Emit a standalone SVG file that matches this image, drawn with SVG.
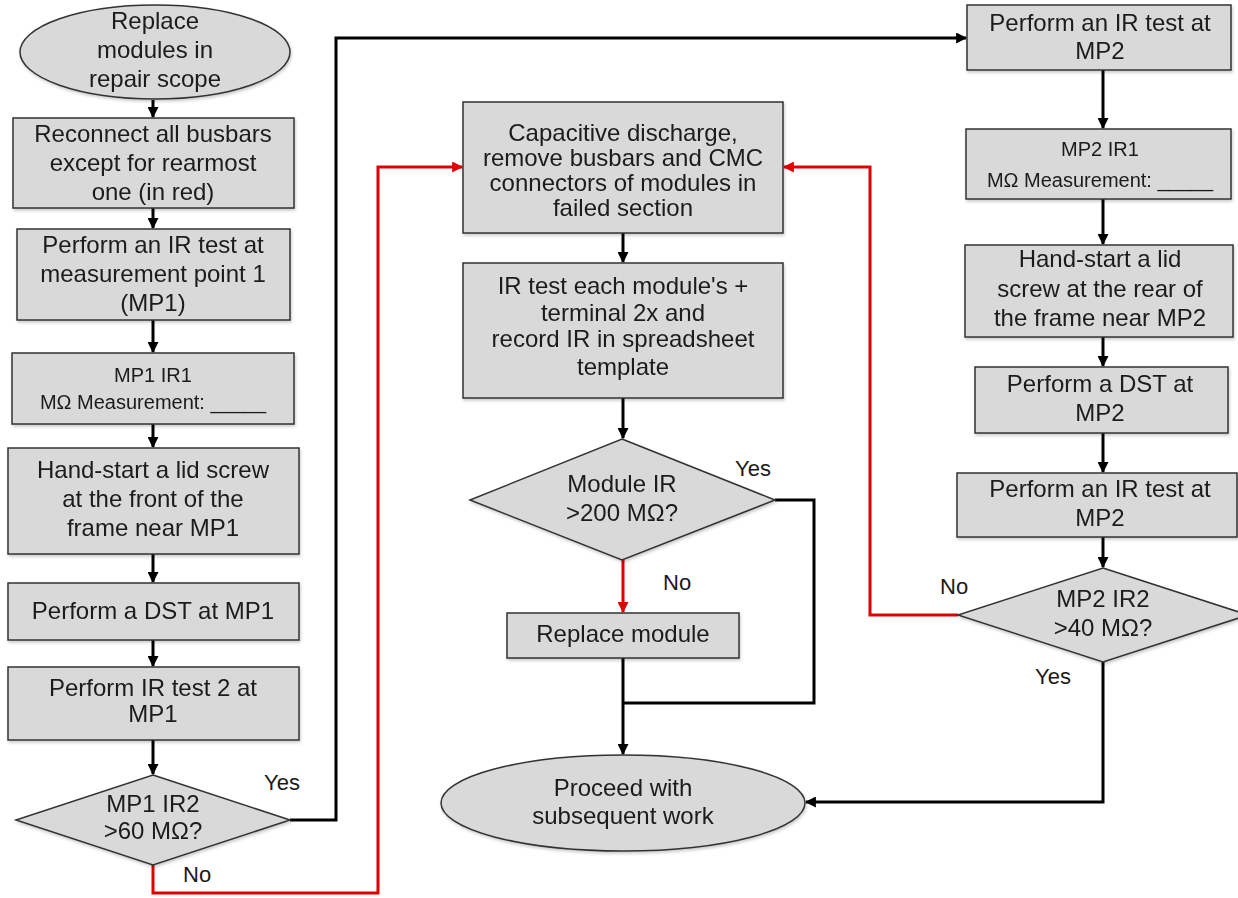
<svg xmlns="http://www.w3.org/2000/svg" width="1238" height="898" viewBox="0 0 1238 898">
<defs>
<style>
.n{fill:#d9d9d9;stroke:#333;stroke-width:1.5}
.t{font-family:"Liberation Sans",Arial,sans-serif;font-size:24px;fill:#1a1a1a;text-anchor:middle}
.s{font-size:20px}
.lbl{font-family:"Liberation Sans",Arial,sans-serif;font-size:22px;fill:#1a1a1a}
.k{fill:none;stroke:#000;stroke-width:3}
.r{fill:none;stroke:#e00000;stroke-width:3}
</style>
<marker id="ab" viewBox="0 0 10 10" refX="9" refY="5" markerWidth="11" markerHeight="11" markerUnits="userSpaceOnUse" orient="auto"><path d="M0,0L10,5L0,10z" fill="#000"/></marker>
<marker id="ar" viewBox="0 0 10 10" refX="9" refY="5" markerWidth="11" markerHeight="11" markerUnits="userSpaceOnUse" orient="auto"><path d="M0,0L10,5L0,10z" fill="#e00000"/></marker>
<filter id="sh" x="-5%" y="-5%" width="110%" height="115%"><feDropShadow dx="1" dy="2" stdDeviation="1.5" flood-color="#000" flood-opacity="0.2"/></filter>
</defs>
<rect width="1238" height="898" fill="#fff"/>

<g id="connectors">
<line class="k" x1="153" y1="100" x2="153" y2="117" marker-end="url(#ab)"/>
<line class="k" x1="153" y1="208" x2="153" y2="228" marker-end="url(#ab)"/>
<line class="k" x1="153" y1="320" x2="153" y2="352" marker-end="url(#ab)"/>
<line class="k" x1="153" y1="424" x2="153" y2="447" marker-end="url(#ab)"/>
<line class="k" x1="153" y1="554" x2="153" y2="582" marker-end="url(#ab)"/>
<line class="k" x1="153" y1="640" x2="153" y2="666" marker-end="url(#ab)"/>
<line class="k" x1="153" y1="740" x2="153" y2="774" marker-end="url(#ab)"/>
<polyline class="k" points="290,820 336,820 336,38 966,38" marker-end="url(#ab)"/>
<polyline class="r" points="153,865 153,893 378,893 378,167 462,167" marker-end="url(#ar)"/>
<line class="k" x1="623" y1="233" x2="623" y2="262" marker-end="url(#ab)"/>
<line class="k" x1="623" y1="398" x2="623" y2="438" marker-end="url(#ab)"/>
<line class="r" x1="623" y1="560" x2="623" y2="612" marker-end="url(#ar)"/>
<line class="k" x1="623" y1="658" x2="623" y2="754" marker-end="url(#ab)"/>
<polyline class="k" points="775,500 814,500 814,703 623,703"/>
<line class="k" x1="1103" y1="70" x2="1103" y2="128" marker-end="url(#ab)"/>
<line class="k" x1="1103" y1="199" x2="1103" y2="244" marker-end="url(#ab)"/>
<line class="k" x1="1103" y1="337" x2="1103" y2="366" marker-end="url(#ab)"/>
<line class="k" x1="1103" y1="433" x2="1103" y2="472" marker-end="url(#ab)"/>
<line class="k" x1="1103" y1="537" x2="1103" y2="567" marker-end="url(#ab)"/>
<polyline class="k" points="1103,662 1103,802 806,802" marker-end="url(#ab)"/>
<polyline class="r" points="958,615 870,615 870,167 784,167" marker-end="url(#ar)"/>
<text class="lbl" x="264" y="790">Yes</text>
<text class="lbl" x="183" y="882">No</text>
<text class="lbl" x="735" y="476">Yes</text>
<text class="lbl" x="663" y="590">No</text>
<text class="lbl" x="940" y="594">No</text>
<text class="lbl" x="1035" y="684">Yes</text>
</g>

<g id="n1" filter="url(#sh)"><ellipse class="n" cx="155" cy="52" rx="135" ry="47"/>
<text class="t" x="155" y="29">Replace</text><text class="t" x="155" y="58">modules in</text><text class="t" x="155" y="87">repair scope</text></g>
<g id="n2" filter="url(#sh)"><rect class="n" x="13" y="118" width="281" height="90"/>
<text class="t" x="153" y="142">Reconnect all busbars</text><text class="t" x="153" y="171">except for rearmost</text><text class="t" x="153" y="200">one (in red)</text></g>
<g id="n3" filter="url(#sh)"><rect class="n" x="17" y="229" width="273" height="91"/>
<text class="t" x="153" y="253">Perform an IR test at</text><text class="t" x="153" y="282">measurement point 1</text><text class="t" x="153" y="311">(MP1)</text></g>
<g id="n4" filter="url(#sh)"><rect class="n" x="12" y="353" width="282" height="71"/>
<text class="t s" x="153" y="382">MP1 IR1</text><text class="t s" x="153" y="409">MΩ Measurement: _____</text></g>
<g id="n5" filter="url(#sh)"><rect class="n" x="8" y="448" width="291" height="106"/>
<text class="t" x="153" y="478">Hand-start a lid screw</text><text class="t" x="153" y="507">at the front of the</text><text class="t" x="153" y="536">frame near MP1</text></g>
<g id="n6" filter="url(#sh)"><rect class="n" x="8" y="583" width="291" height="57"/>
<text class="t" x="153" y="619">Perform a DST at MP1</text></g>
<g id="n7" filter="url(#sh)"><rect class="n" x="8" y="667" width="291" height="73"/>
<text class="t" x="153" y="696">Perform IR test 2 at</text><text class="t" x="153" y="722">MP1</text></g>
<g id="n8" filter="url(#sh)"><polygon class="n" points="153,775 290,820 153,865 16,820"/>
<text class="t" x="153" y="812">MP1 IR2</text><text class="t" x="153" y="839">&gt;60 MΩ?</text></g>

<g id="n9" filter="url(#sh)"><rect class="n" x="463" y="102" width="320" height="131"/>
<text class="t" x="623" y="141">Capacitive discharge,</text><text class="t" x="623" y="166">remove busbars and CMC</text><text class="t" x="623" y="191">connectors of modules in</text><text class="t" x="623" y="216">failed section</text></g>
<g id="n10" filter="url(#sh)"><rect class="n" x="463" y="263" width="320" height="135"/>
<text class="t" x="623" y="294">IR test each module's +</text><text class="t" x="623" y="321">terminal 2x and</text><text class="t" x="623" y="347">record IR in spreadsheet</text><text class="t" x="623" y="375">template</text></g>
<g id="n11" filter="url(#sh)"><polygon class="n" points="622,439 775,500 622,560 470,500"/>
<text class="t" x="622" y="492">Module IR</text><text class="t" x="622" y="521">&gt;200 MΩ?</text></g>
<g id="n12" filter="url(#sh)"><rect class="n" x="507" y="613" width="232" height="45"/>
<text class="t" x="623" y="642">Replace module</text></g>
<g id="n13" filter="url(#sh)"><ellipse class="n" cx="623" cy="803" rx="182" ry="48"/>
<text class="t" x="623" y="796">Proceed with</text><text class="t" x="623" y="824">subsequent work</text></g>

<g id="n14" filter="url(#sh)"><rect class="n" x="967" y="5" width="264" height="65"/>
<text class="t" x="1100" y="31">Perform an IR test at</text><text class="t" x="1100" y="59">MP2</text></g>
<g id="n15" filter="url(#sh)"><rect class="n" x="966" y="129" width="265" height="70"/>
<text class="t s" x="1100" y="156">MP2 IR1</text><text class="t s" x="1100" y="187">MΩ Measurement: _____</text></g>
<g id="n16" filter="url(#sh)"><rect class="n" x="965" y="245" width="268" height="92"/>
<text class="t" x="1100" y="267">Hand-start a lid</text><text class="t" x="1100" y="297">screw at the rear of</text><text class="t" x="1100" y="326">the frame near MP2</text></g>
<g id="n17" filter="url(#sh)"><rect class="n" x="975" y="367" width="253" height="66"/>
<text class="t" x="1100" y="392">Perform a DST at</text><text class="t" x="1100" y="421">MP2</text></g>
<g id="n18" filter="url(#sh)"><rect class="n" x="957" y="473" width="280" height="64"/>
<text class="t" x="1100" y="497">Perform an IR test at</text><text class="t" x="1100" y="526">MP2</text></g>
<g id="n19" filter="url(#sh)"><polygon class="n" points="1103,568 1248,615 1103,662 958,615"/>
<text class="t" x="1103" y="607">MP2 IR2</text><text class="t" x="1103" y="636">&gt;40 MΩ?</text></g>
</svg>
